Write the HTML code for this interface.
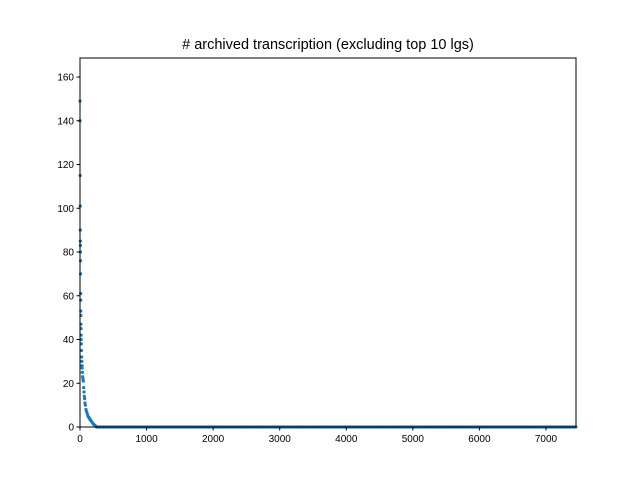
<!DOCTYPE html>
<html><head><meta charset="utf-8"><style>
body{margin:0;background:#fff;}
svg{display:block;font-family:"Liberation Sans","DejaVu Sans",sans-serif;}
</style></head><body>
<svg id="chart" width="640" height="480">
<rect width="640" height="480" fill="#fff"/>
<text x="328" y="49" text-anchor="middle" font-size="14.5"># archived transcription (excluding top 10 lgs)</text>
<g id="marks"></g>
<g id="axes"></g>
<rect x="80" y="58" width="496" height="369" fill="none" stroke="#000" stroke-width="1"/>
</svg>
<script>
const ranks = [0,1,2,3,4,5,6,7,8,9,10,11,12,13,14,15,16,18,20,22,25,28,30,33,36,40,45,50,55,60,65,70,75,80,90,100,110,120,130,140,150,160,175,190,205,220,235,250];
const values = [149,140,115,101,90,85,83,80,76,70,61,58,53,51,47,45,42,40,38,35,32,30,28,27,25,23,22,21,18,16,14,13,11,10,8,7,6,5,4.5,4,3.5,3,2.5,1.8,1.2,0.8,0.4,0.1];
const tailStart = 250;
const tailEnd = 7450;
const tailValue = 0;
const xTicks = [0,1000,2000,3000,4000,5000,6000,7000];
const yTicks = [0,20,40,60,80,100,120,140,160];
const xMax = 7451, yMax = 168.7;
const L=80,R=576,T=58,B=427;
const xs = v => L + v/xMax*(R-L);
const ys = v => B - v/yMax*(B-T);
const NS="http://www.w3.org/2000/svg";
const marks=document.getElementById('marks');
function pt(r,v){
  const c=document.createElementNS(NS,'circle');
  c.setAttribute('cx',xs(r));c.setAttribute('cy',ys(v));c.setAttribute('r',1.6);c.setAttribute('fill','#1f77b4');
  
  
  marks.appendChild(c);
}
ranks.forEach((r,i)=>pt(r,values[i]));
for(let r=tailStart;r<=tailEnd;r+=20){pt(r,tailValue);}
const axes=document.getElementById('axes');
xTicks.forEach(t=>{
  const x=xs(t);
  const l=document.createElementNS(NS,'line');
  l.setAttribute('x1',x);l.setAttribute('x2',x);l.setAttribute('y1',B);l.setAttribute('y2',B+3.5);l.setAttribute('stroke','#000');
  
  
  axes.appendChild(l);
  const tx=document.createElementNS(NS,'text');
  tx.setAttribute('x',x);tx.setAttribute('y',B+15);tx.setAttribute('text-anchor','middle');tx.setAttribute('font-size','10');
  tx.textContent=t;
  
  
  axes.appendChild(tx);
});
yTicks.forEach(t=>{
  const y=ys(t);
  const l=document.createElementNS(NS,'line');
  l.setAttribute('x1',L-3.5);l.setAttribute('x2',L);l.setAttribute('y1',y);l.setAttribute('y2',y);l.setAttribute('stroke','#000');
  
  
  axes.appendChild(l);
  const tx=document.createElementNS(NS,'text');
  tx.setAttribute('x',L-6);tx.setAttribute('y',y+3.5);tx.setAttribute('text-anchor','end');tx.setAttribute('font-size','10');
  tx.textContent=t;
  
  
  axes.appendChild(tx);
});
</script>
</body></html>
